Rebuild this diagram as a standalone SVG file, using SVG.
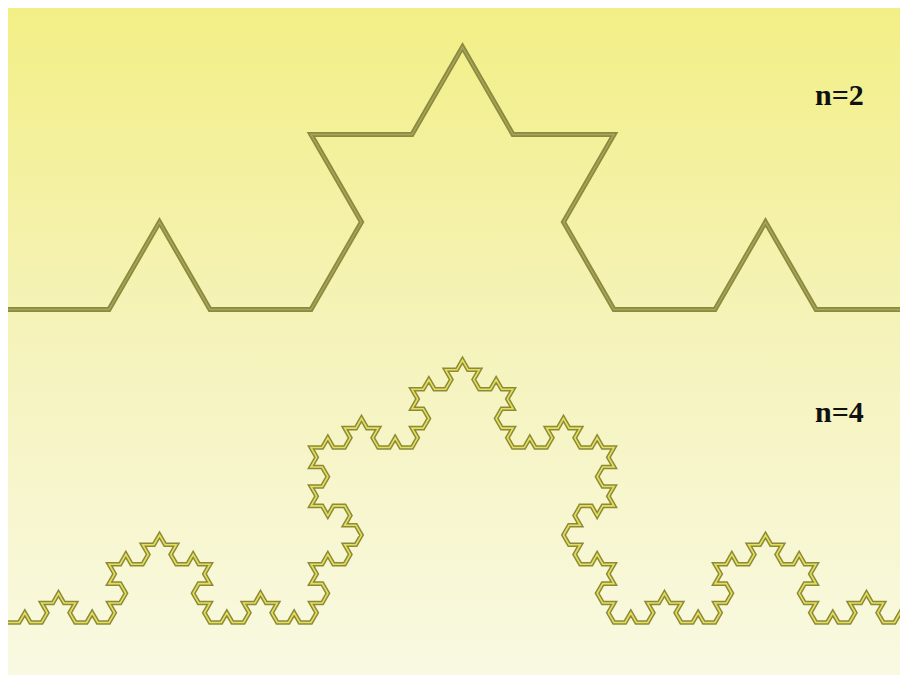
<svg xmlns="http://www.w3.org/2000/svg" width="900" height="675" viewBox="0 0 900 675">
  <defs>
    <linearGradient id="bg" x1="0" y1="0" x2="0" y2="1">
      <stop offset="0" stop-color="#f2ef86"/>
      <stop offset="0.5" stop-color="#f5f3bb"/>
      <stop offset="1" stop-color="#f9f9e2"/>
    </linearGradient>
    <path id="k2" d="M8 309.5h101l50.5-87.470 50.5 87.47h101l50.5-87.47-50.5-87.47h101l50.5-87.47 50.5 87.47h101l-50.5 87.47 50.5 87.47h101l50.5-87.47 50.5 87.47h101"/>
    <path id="k4" d="M8 622.5
l11.222 0 5.611-9.719 5.611 9.719 11.222 0 5.611-9.719-5.611-9.719 11.222 0 5.611-9.719 5.611 9.719 11.222 0-5.611 9.719 5.611 9.719 11.222 0 5.611-9.719 5.611 9.719 11.222 0
l5.611-9.719-5.611-9.719 11.222 0 5.611-9.719 -5.611-9.719-11.222 0 5.611-9.719-5.611-9.719 11.222 0 5.611-9.719 5.611 9.719 11.222 0 5.611-9.719-5.611-9.719 11.222 0 5.611-9.719
l5.611 9.719 11.222 0-5.611 9.719 5.611 9.719 11.222 0 5.611-9.719 5.611 9.719 11.222 0-5.611 9.719 5.611 9.719-11.222 0-5.611 9.719 5.611 9.719 11.222 0-5.611 9.719 5.611 9.719
l11.222 0 5.611-9.719 5.611 9.719 11.222 0 5.611-9.719-5.611-9.719 11.222 0 5.611-9.719 5.611 9.719 11.222 0-5.611 9.719 5.611 9.719 11.222 0 5.611-9.719 5.611 9.719 11.222 0
l5.611-9.719-5.611-9.719 11.222 0 5.611-9.719 -5.611-9.719-11.222 0 5.611-9.719-5.611-9.719 11.222 0 5.611-9.719 5.611 9.719 11.222 0 5.611-9.719-5.611-9.719 11.222 0 5.611-9.719
l-5.611-9.719-11.222 0 5.611-9.719-5.611-9.719 -11.222 0-5.611 9.719-5.611-9.719-11.222 0 5.611-9.719-5.611-9.719 11.222 0 5.611-9.719 -5.611-9.719-11.222 0 5.611-9.719-5.611-9.719
l11.222 0 5.611-9.719 5.611 9.719 11.222 0 5.611-9.719-5.611-9.719 11.222 0 5.611-9.719 5.611 9.719 11.222 0-5.611 9.719 5.611 9.719 11.222 0 5.611-9.719 5.611 9.719 11.222 0
l5.611-9.719-5.611-9.719 11.222 0 5.611-9.719 -5.611-9.719-11.222 0 5.611-9.719-5.611-9.719 11.222 0 5.611-9.719 5.611 9.719 11.222 0 5.611-9.719-5.611-9.719 11.222 0 5.611-9.719
l5.611 9.719 11.222 0-5.611 9.719 5.611 9.719 11.222 0 5.611-9.719 5.611 9.719 11.222 0-5.611 9.719 5.611 9.719-11.222 0-5.611 9.719 5.611 9.719 11.222 0-5.611 9.719 5.611 9.719
l11.222 0 5.611-9.719 5.611 9.719 11.222 0 5.611-9.719-5.611-9.719 11.222 0 5.611-9.719 5.611 9.719 11.222 0-5.611 9.719 5.611 9.719 11.222 0 5.611-9.719 5.611 9.719 11.222 0
l-5.611 9.719 5.611 9.719-11.222 0-5.611 9.719 5.611 9.719 11.222 0-5.611 9.719 5.611 9.719 -11.222 0-5.611 9.719-5.611-9.719-11.222 0 -5.611 9.719 5.611 9.719-11.222 0-5.611 9.719
l5.611 9.719 11.222 0-5.611 9.719 5.611 9.719 11.222 0 5.611-9.719 5.611 9.719 11.222 0-5.611 9.719 5.611 9.719-11.222 0-5.611 9.719 5.611 9.719 11.222 0-5.611 9.719 5.611 9.719
l11.222 0 5.611-9.719 5.611 9.719 11.222 0 5.611-9.719-5.611-9.719 11.222 0 5.611-9.719 5.611 9.719 11.222 0-5.611 9.719 5.611 9.719 11.222 0 5.611-9.719 5.611 9.719 11.222 0
l5.611-9.719-5.611-9.719 11.222 0 5.611-9.719 -5.611-9.719-11.222 0 5.611-9.719-5.611-9.719 11.222 0 5.611-9.719 5.611 9.719 11.222 0 5.611-9.719-5.611-9.719 11.222 0 5.611-9.719
l5.611 9.719 11.222 0-5.611 9.719 5.611 9.719 11.222 0 5.611-9.719 5.611 9.719 11.222 0-5.611 9.719 5.611 9.719-11.222 0-5.611 9.719 5.611 9.719 11.222 0-5.611 9.719 5.611 9.719
l11.222 0 5.611-9.719 5.611 9.719 11.222 0 5.611-9.719-5.611-9.719 11.222 0 5.611-9.719 5.611 9.719 11.222 0-5.611 9.719 5.611 9.719 11.222 0 5.611-9.719 5.611 9.719 11.222 0"/>
  </defs>
  <style>
    .curve { fill: none; stroke-linejoin: miter; stroke-miterlimit: 4; }
    .outer2 { stroke: #8c8a3c; stroke-width: 5; }
    .inner2 { stroke: #a8a660; stroke-width: 1.4; }
    .outer4 { stroke: #8c8a3a; stroke-width: 4.6; }
    .inner4 { stroke: #e4e05c; stroke-width: 1.6; }
    .label { font-family: "Liberation Serif", "Times New Roman", serif; font-weight: bold; font-size: 30px; fill: #111111; }
  </style>
  <rect width="900" height="675" fill="#ffffff"/>
  <rect x="8" y="8" width="892" height="667" fill="url(#bg)"/>
  <g id="koch-n2">
    <use href="#k2" class="curve outer2"/>
    <use href="#k2" class="curve inner2"/>
    <text class="label" x="815" y="105">n=2</text>
  </g>
  <g id="koch-n4">
    <use href="#k4" class="curve outer4"/>
    <use href="#k4" class="curve inner4"/>
    <text class="label" x="815" y="422">n=4</text>
  </g>
</svg>
